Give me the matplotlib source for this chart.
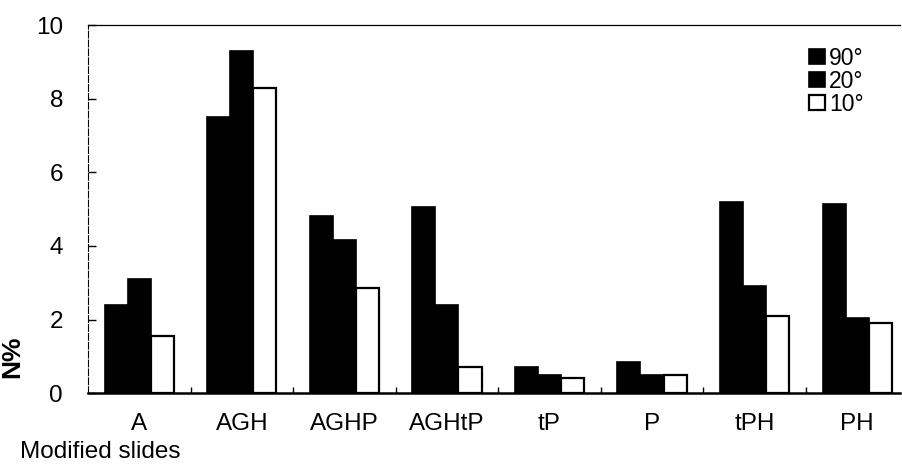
import matplotlib
matplotlib.use("Agg")
import matplotlib.pyplot as plt
import numpy as np

categories = ["A", "AGH", "AGHP", "AGHtP", "tP", "P", "tPH", "PH"]
series_names = ["90°", "20°", "10°"]
v90 = [2.4, 7.5, 4.8, 5.05, 0.7, 0.85, 5.2, 5.15]
v20 = [3.1, 9.3, 4.15, 2.4, 0.5, 0.5, 2.9, 2.05]
v10 = [1.55, 8.3, 2.85, 0.7, 0.4, 0.5, 2.1, 1.9]
yticks = [0, 2, 4, 6, 8, 10]

plt.rcParams['font.family'] = ['Liberation Sans', 'DejaVu Sans']

fig = plt.figure(figsize=(9.02, 4.72), dpi=100)
ax = fig.add_axes([0.0976, 0.167, 0.9004, 0.780])

x = np.arange(len(categories))
w = 0.225
ax.bar(x - w, v90, w, color="black", edgecolor="black", linewidth=1.2, label=series_names[0])
ax.bar(x, v20, w, color="black", edgecolor="black", linewidth=1.2, label=series_names[1])
ax.bar(x + w, v10, w, color="white", edgecolor="black", linewidth=1.6, label=series_names[2])

ax.set_xlim(-0.5, 7.42)
ax.set_ylim(0, 10)
ax.set_yticks(yticks)
ax.set_xticks(x)
ax.set_xticklabels(categories, fontsize=17.5)
ax.set_xticks(x[:-1] + 0.5, minor=True)
ax.tick_params(axis='x', which='major', length=0, pad=14)
ax.tick_params(axis='x', which='minor', direction='in', length=4, width=1)
ax.tick_params(axis='y', direction='in', length=6, width=1, pad=18, labelsize=17.5)

ax.spines['right'].set_visible(False)
ax.spines['left'].set_linestyle((0, (6, 2)))
ax.spines['left'].set_linewidth(0.8)
ax.spines['top'].set_linewidth(0.9)
ax.spines['bottom'].set_linewidth(1.8)

ax.set_ylabel("N%", fontsize=19, fontweight='bold')
ax.yaxis.set_label_coords(-0.078, 0.1)
fig.text(0.022, 0.03, "Modified slides", fontsize=17.5)

leg = ax.legend(loc='upper right', bbox_to_anchor=(0.975, 0.985), frameon=False,
                fontsize=16.5, handlelength=0.7, handleheight=0.65, handletextpad=0.2,
                labelspacing=0.0, borderpad=0.2)

fig.savefig("out.png", dpi=100)
